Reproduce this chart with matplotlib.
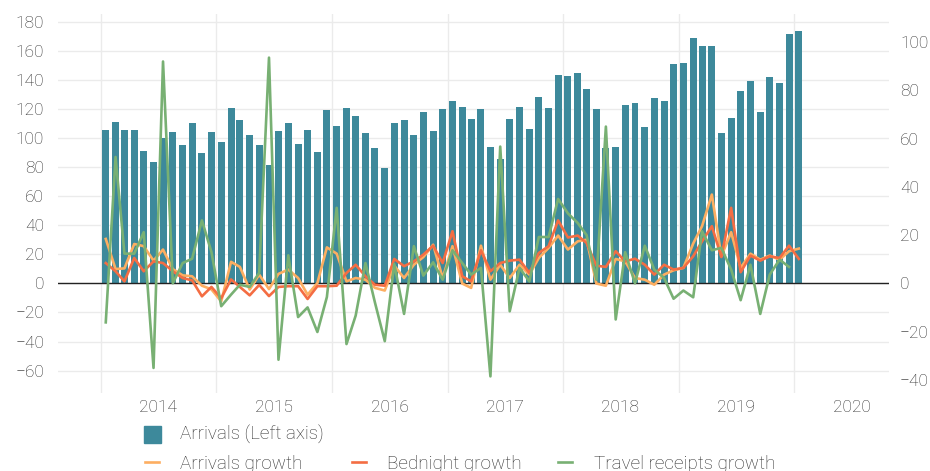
import matplotlib
matplotlib.use("Agg")
import matplotlib.pyplot as plt
import matplotlib.dates as mdates
from matplotlib.ticker import NullFormatter
from matplotlib.patches import Rectangle
from matplotlib.lines import Line2D
import pandas as pd

plt.rcParams['font.family'] = ['Roboto', 'DejaVu Sans']
plt.rcParams['font.weight'] = 'light'

# monthly observations, Jan 2014 .. Jan 2020 (plotted mid-month)
months = pd.date_range('2014-01-01', periods=73, freq='MS') + pd.Timedelta(days=15)

arrivals = [105.4, 110.9, 105.4, 105.4, 91.0, 83.4, 100.0, 104.0, 95.1, 110.2, 89.6, 104.0,
            97.2, 120.5, 112.3, 102.0, 95.1, 81.3, 104.7, 110.2, 95.8, 105.4, 90.3, 119.2,
            108.2, 120.5, 115.0, 103.3, 93.0, 79.3, 110.2, 112.3, 102.0, 117.8, 104.7, 119.9,
            125.4, 121.2, 113.0, 119.9, 93.8, 85.5, 113.0, 121.2, 106.1, 128.1, 120.5, 143.3,
            142.6, 144.6, 133.6, 119.9, 93.0, 93.8, 122.6, 124.0, 107.5, 127.4, 125.4, 150.8,
            151.5, 168.7, 163.2, 163.2, 103.3, 113.7, 132.2, 139.1, 117.8, 141.9, 137.8, 171.5,
            173.5]

arrivals_growth = [18.4, 5.9, 6.2, 16.3, 15.4, 9.4, 14.0, 5.9, 3.3, 2.9, -1.0, -2.5,
                   -7.5, 8.9, 6.8, -2.6, 3.6, -2.4, 3.9, 5.7, 2.2, -4.7, 0.1, 14.9,
                   12.3, 0.8, 2.2, 1.5, -1.9, -3.0, 7.3, 2.2, 7.7, 10.9, 16.0, 2.2,
                   15.4, -0.1, -1.9, 15.6, 1.5, 7.7, 2.2, 7.7, 3.6, 10.5, 14.7, 19.8,
                   14.0, 17.4, 18.1, -0.1, -1.0, 10.1, 9.1, 2.2, 1.5, -0.6, 3.6, 5.4,
                   6.4, 16.5, 23.7, 36.8, 11.2, 21.2, 6.4, 12.3, 9.8, 11.5, 9.8, 13.3,
                   14.4]

bednight_growth = [8.4, 5.0, 0.8, 10.5, 5.0, 9.1, 8.4, 5.0, 2.2, 1.2, -5.4, -1.5,
                   -6.2, 1.6, -1.5, -5.0, -0.7, -5.3, -1.5, -1.2, -1.2, -6.5, -1.2, -1.2,
                   -1.0, 4.3, 7.7, 2.9, -0.6, -1.0, 10.1, 7.1, 9.1, 11.9, 15.6, 8.4,
                   21.6, 2.9, 0.8, 13.7, 5.0, 8.4, 9.4, 9.8, 4.3, 12.6, 15.4, 26.1,
                   19.0, 19.8, 16.7, 7.3, 6.8, 13.3, 9.1, 10.2, 7.7, 3.6, 7.7, 5.7,
                   6.4, 11.2, 17.4, 23.7, 10.9, 31.3, 4.6, 11.5, 9.4, 11.2, 10.5, 15.6,
                   10.1]

# travel receipts stop one month earlier (Dec 2019)
receipts_growth = [-16.2, 52.4, 12.3, 12.3, 21.2, -35.1, 92.0, 0.0, 8.4, 10.2, 26.1, 13.0,
                   -9.5, -4.7, -0.6, -1.5, 4.3, 93.6, -31.7, 11.6, -14.0, -10.0, -20.2, -5.7,
                   31.3, -25.2, -13.4, 8.4, -8.0, -24.0, 8.0, -12.7, 15.4, 3.2, 8.7, 1.5,
                   13.7, 8.4, 3.6, 6.4, -38.6, 56.7, -11.6, 6.4, 0.8, 19.2, 19.2, 35.0,
                   29.0, 25.0, 20.0, 1.5, 65.0, -15.0, 12.9, 0.0, 15.6, 5.7, 2.2, -6.4,
                   -3.0, -5.8, 21.6, 13.7, 14.7, 5.7, -7.0, 7.7, -12.7, 3.6, 9.8, 6.8]

TEAL = '#3d899b'
ORANGE = '#fdae61'
RED = '#f46d43'
GREEN = '#78b073'
TXT = '#2e2e2e'
GRID = '#ebebeb'
FS = 12.5
LEG_FS = 13.6

W, H = 930, 471
fig = plt.figure(figsize=(W / 100, H / 100), dpi=100)
ax = fig.add_axes([58 / W, 1 - 393 / H, (889 - 58) / W, (393 - 14) / H])
ax2 = ax.twinx()

ax.bar(months, arrivals, width=22, color=TEAL, zorder=2)
ax2.axhline(0, color='#222222', lw=1, zorder=1)
ax2.plot(months, arrivals_growth, color=ORANGE, lw=1.9, zorder=3)
ax2.plot(months, bednight_growth, color=RED, lw=1.9, zorder=4)
ax2.plot(months[:len(receipts_growth)], receipts_growth, color=GREEN, lw=1.9, zorder=5)

ax.set_xlim(pd.Timestamp('2013-08-18'), pd.Timestamp('2020-10-27'))
ax.set_ylim(-75.4, 185.2)
ax2.set_ylim(-45.5, 111.7)
ax.set_yticks(range(-60, 181, 20))
ax2.set_yticks(range(-40, 101, 20))

ax.xaxis.set_major_locator(mdates.YearLocator())
ax.xaxis.set_major_formatter(NullFormatter())
ax.xaxis.set_minor_locator(mdates.MonthLocator(bymonth=7))
ax.xaxis.set_minor_formatter(mdates.DateFormatter('%Y'))

ax.set_axisbelow(True)
ax.grid(True, which='major', color=GRID, lw=1)
for a in (ax, ax2):
    for s in a.spines.values():
        s.set_visible(False)
ax.tick_params(axis='y', length=0, labelsize=FS, colors=TXT, pad=10)
ax.tick_params(axis='x', which='both', length=0, labelsize=FS, colors=TXT, pad=5)
ax2.tick_params(axis='y', length=0, labelsize=FS, colors=TXT, pad=8)

# legend below the plot
def fx(px):
    return px / W

def fy(py):
    return 1 - py / H

fig.add_artist(Rectangle((fx(144), fy(443)), fx(17), 17 / H, transform=fig.transFigure,
                         color=TEAL))
fig.text(fx(180), fy(434), 'Arrivals (Left axis)', fontsize=LEG_FS, color=TXT, va='center')
legend_lines = [('Arrivals growth', ORANGE, 145, 180),
                ('Bednight growth', RED, 352, 387),
                ('Travel receipts growth', GREEN, 558, 594)]
for label, col, x0, xt in legend_lines:
    fig.add_artist(Line2D([fx(x0), fx(x0 + 14)], [fy(462), fy(462)], transform=fig.transFigure,
                          color=col, lw=1.9))
    fig.text(fx(xt), fy(464), label, fontsize=LEG_FS, color=TXT, va='center')

fig.savefig('out.png', dpi=100)
